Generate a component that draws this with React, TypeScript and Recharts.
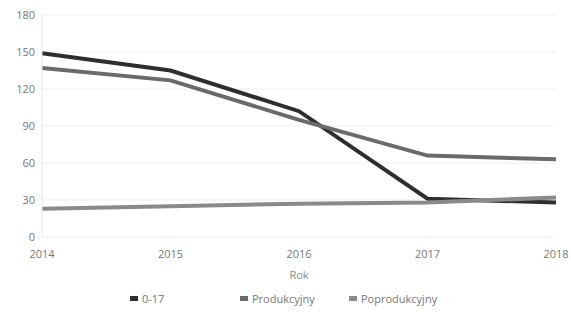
import { LineChart, Line, XAxis, YAxis, CartesianGrid } from "recharts";

const years = ["2014", "2015", "2016", "2017", "2018"];
const age017 = [149, 135, 102, 31, 28];
const produkcyjny = [137, 127, 95, 66, 63];
const poprodukcyjny = [23, 25, 27, 28, 32];
const yTicks = [0, 30, 60, 90, 120, 150, 180];

const series = [
  { key: "a", name: "0-17", color: "#2e2e2e" },
  { key: "b", name: "Produkcyjny", color: "#6a6a6a" },
  { key: "c", name: "Poprodukcyjny", color: "#8a8a8a" },
];

const data = years.map((y, i) => ({
  year: y,
  a: age017[i],
  b: produkcyjny[i],
  c: poprodukcyjny[i],
}));

const font = "'Open Sans', sans-serif";

function LegendRow() {
  const widths = [110, 109, 110];
  return (
    <div
      style={{
        position: "absolute",
        left: 130,
        top: 291,
        display: "flex",
        fontFamily: font,
        fontSize: 11,
        color: "#777",
      }}
    >
      {series.map((s, i) => (
        <div key={s.key} style={{ width: widths[i], display: "flex", alignItems: "center" }}>
          <span style={{ display: "inline-block", width: 8, height: 5, background: s.color, marginRight: 4 }} />
          {s.name}
        </div>
      ))}
    </div>
  );
}

export default function App() {
  return (
    <div style={{ position: "absolute", left: 0, top: 0, width: 571, height: 313, background: "#fff" }}>
      <LineChart width={571} height={313} data={data} margin={{ top: 15, right: 15, left: 0, bottom: 31 }}>
        <CartesianGrid vertical={false} stroke="#efefef" />
        <XAxis
          dataKey="year"
          axisLine={false}
          tickLine={false}
          tickSize={0}
          tickMargin={13}
          tick={{ fontSize: 11, fill: "#777", fontFamily: font }}
          label={{ value: "Rok", position: "insideBottom", offset: 0, dy: -3, fill: "#888", fontSize: 11, fontFamily: font }}
          height={45}
          interval={0}
        />
        <YAxis
          domain={[0, 180]}
          ticks={yTicks}
          width={42}
          axisLine={{ stroke: "#e4e4e4" }}
          tickLine={false}
          tickSize={0}
          tickMargin={7}
          tick={{ fontSize: 11, fill: "#777", fontFamily: font }}
        />
        {series.map((s) => (
          <Line
            key={s.key}
            dataKey={s.key}
            name={s.name}
            stroke={s.color}
            strokeWidth={4}
            dot={false}
            type="linear"
            isAnimationActive={false}
          />
        ))}
      </LineChart>
      <LegendRow />
    </div>
  );
}
